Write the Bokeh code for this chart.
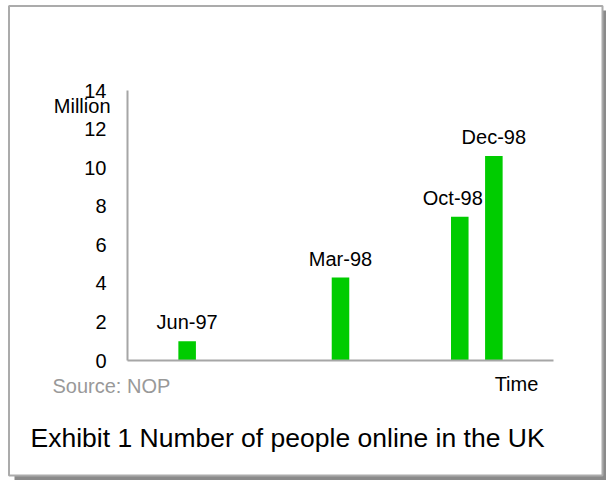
from bokeh.plotting import figure
from bokeh.models import Range1d, FixedTicker, Label, BoxAnnotation, ColumnDataSource
from bokeh.core.properties import value
from bokeh.embed import file_html
from bokeh.resources import INLINE

# ---- data ----
period_labels = ["Jun-97", "Mar-98", "Oct-98", "Dec-98"]
months_since_jun97 = [0, 9, 16, 18]
people_online_millions = [1.0, 4.3, 7.45, 10.6]
y_tick_values = [0, 2, 4, 6, 8, 10, 12, 14]

# ---- styling / geometry ----
label_dx = [0, 0, -7, 0]
FONT = "Liberation Sans"
GREEN = "#00cc00"
AXIS_GREY = "#a6a6a6"

W, H = 606, 480
X0, X1 = -3.5, 21.5          # month extent of the x axis line
Y0, Y1 = 0, 14               # value extent of the y axis line
AX_L, AX_R, AX_T, AX_B = 127, 553, 90, 360   # pixel box of the axes
KX = (AX_R - AX_L) / (X1 - X0)
KY = (AX_B - AX_T) / (Y1 - Y0)


def cx(px):
    return X0 + (px - AX_L) / KX


def cy(py):
    return Y0 + (AX_B - py) / KY


p = figure(width=W, height=H,
           x_range=Range1d(cx(0), cx(W)), y_range=Range1d(cy(H), cy(0)),
           output_backend="svg", toolbar_location=None, title=None,
           min_border=0, min_border_left=0, min_border_right=0,
           min_border_top=0, min_border_bottom=0)
p.background_fill_color = "white"
p.border_fill_color = "white"
p.outline_line_color = None
p.xgrid.visible = False
p.ygrid.visible = False

# outer frame with shadow
shadow = BoxAnnotation(left=cx(14), right=cx(606), top=cy(10), bottom=cy(480),
                       fill_color="#8a8a8a", fill_alpha=1.0, line_color=None, level="underlay")
frame = BoxAnnotation(left=cx(8.5), right=cx(602), top=cy(5.5), bottom=cy(475),
                      fill_color="white", fill_alpha=1.0, line_color="#ababab",
                      line_alpha=1.0, line_width=2, level="underlay")
p.add_layout(shadow)
p.add_layout(frame)

src = ColumnDataSource(dict(x=months_since_jun97, top=people_online_millions,
                            label=period_labels, dx=label_dx))
p.vbar(x="x", top="top", bottom=0, width=1.03, source=src, fill_color=GREEN, line_color=None)
p.text(x="x", y="top", text="label", x_offset="dx", y_offset=-19, source=src,
       text_align="center", text_baseline="middle", text_color="#000000",
       text_font=value(FONT), text_font_size=value("20px"))

# axes (fixed at the data origin so they take no side space)
p.yaxis.fixed_location = X0
p.yaxis.bounds = (Y0, Y1)
p.yaxis.ticker = FixedTicker(ticks=y_tick_values)
p.yaxis.major_tick_line_color = None
p.yaxis.minor_tick_line_color = None
p.yaxis.axis_line_color = AXIS_GREY
p.yaxis.axis_line_width = 2
p.yaxis.major_label_text_font = FONT
p.yaxis.major_label_text_font_size = "20px"
p.yaxis.major_label_text_color = "#000000"
p.yaxis.major_label_standoff = 15

p.xaxis.fixed_location = Y0
p.xaxis.bounds = (X0, X1)
p.xaxis.ticker = FixedTicker(ticks=[])
p.xaxis.major_tick_line_color = None
p.xaxis.minor_tick_line_color = None
p.xaxis.axis_line_color = AXIS_GREY
p.xaxis.axis_line_width = 2
p.xaxis.major_label_text_font_size = "0px"

# texts
p.add_layout(Label(x=cx(110), y=cy(105), text="Million", text_align="right", text_baseline="middle",
                   text_font=FONT, text_font_size="20px", text_color="#000000"))
p.add_layout(Label(x=cx(516), y=cy(383.3), text="Time", text_align="center", text_baseline="middle",
                   text_font=FONT, text_font_size="20px", text_color="#000000"))
p.add_layout(Label(x=cx(52), y=cy(385), text="Source: NOP", text_align="left", text_baseline="middle",
                   text_font=FONT, text_font_size="20px", text_color="#999999"))
p.add_layout(Label(x=cx(30), y=cy(437), text="Exhibit 1 Number of people online in the UK",
                   text_align="left", text_baseline="middle",
                   text_font=FONT, text_font_size="26.5px", text_color="#000000"))

open("out.html", "w").write(file_html(p, INLINE))
